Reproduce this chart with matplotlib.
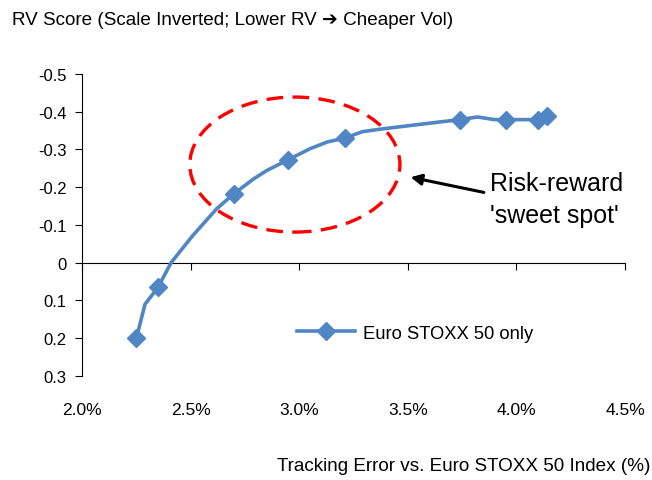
import matplotlib
matplotlib.use("Agg")
import matplotlib.pyplot as plt
from matplotlib.patches import Ellipse

plt.rcParams['font.family'] = ['Liberation Sans Narrow', 'Liberation Sans', 'DejaVu Sans']

# tracking error (%) and RV score along the curve
te_pct = [2.25, 2.29, 2.35, 2.41, 2.51, 2.62, 2.70, 2.79, 2.85, 2.95, 3.05, 3.13,
          3.21, 3.29, 3.39, 3.65, 3.74, 3.82, 3.90, 3.95, 4.10, 4.14]
rv_score = [0.200, 0.110, 0.065, 0.000, -0.072, -0.143, -0.183, -0.222, -0.244, -0.273,
            -0.302, -0.320, -0.330, -0.347, -0.355, -0.373, -0.379, -0.386, -0.379,
            -0.379, -0.379, -0.388]
marker_idx = [0, 2, 6, 9, 12, 16, 19, 20, 21]

x_ticks = [2.0, 2.5, 3.0, 3.5, 4.0, 4.5]
x_labels = ['2.0%', '2.5%', '3.0%', '3.5%', '4.0%', '4.5%']
y_ticks = [-0.5, -0.4, -0.3, -0.2, -0.1, 0, 0.1, 0.2, 0.3]
y_labels = ['-0.5', '-0.4', '-0.3', '-0.2', '-0.1', '0', '0.1', '0.2', '0.3']

blue = '#4F86C3'

fig = plt.figure(figsize=(6.52, 4.81), dpi=100)
ax = fig.add_axes([0.1258, 0.2162, 0.8328, 0.628])

ax.plot(te_pct, rv_score, color=blue, lw=2.6, marker='D', markersize=9.5,
        markevery=marker_idx, label='Euro STOXX 50 only')

ax.set_xlim(2.0, 4.5)
ax.set_ylim(0.3, -0.5)

# main axis: labels only, at the bottom
ax.set_xticks(x_ticks)
ax.set_xticklabels(x_labels, fontsize=12.5)
ax.tick_params(axis='x', length=0, pad=19)
ax.set_yticks(y_ticks)
ax.set_yticklabels(y_labels, fontsize=12)
ax.tick_params(axis='y', direction='out', length=5, width=0.8, pad=6)

for s in ['top', 'right', 'bottom']:
    ax.spines[s].set_visible(False)
ax.spines['left'].set_linewidth(0.8)

# axis line crossing at zero with tick marks
zx = ax.secondary_xaxis(0, transform=ax.transData)
zx.set_xticks(x_ticks)
zx.set_xticklabels([])
zx.tick_params(direction='out', length=5, width=0.8)
zx.spines['bottom'].set_linewidth(0.8)

ax.legend(loc='upper left', bbox_to_anchor=(0.365, 0.225), frameon=False,
          fontsize=13.2, handlelength=3.2, handletextpad=0.4)

# sweet spot annotation
ell = Ellipse((0.392, 0.70), 0.387, 0.447, transform=ax.transAxes, fill=False,
              edgecolor='#FF0000', lw=2.4, linestyle=(0, (5, 2.8)))
ax.add_patch(ell)
ax.annotate('', xy=(0.60, 0.66), xytext=(0.745, 0.606), xycoords='axes fraction',
            arrowprops=dict(arrowstyle='-|>', color='black', lw=2.2, mutation_scale=16))
ax.text(0.752, 0.586, "Risk-reward\n'sweet spot'", transform=ax.transAxes,
        fontsize=18, va='center', ha='left', linespacing=1.4)

fig.text(0.018, 0.958, 'RV Score (Scale Inverted; Lower RV \u2794 Cheaper Vol)',
         fontsize=13.6, ha='left', va='center')
fig.text(0.997, 0.031, 'Tracking Error vs. Euro STOXX 50 Index (%)',
         fontsize=13.6, ha='right', va='center')

fig.savefig('out.png', dpi=100)
